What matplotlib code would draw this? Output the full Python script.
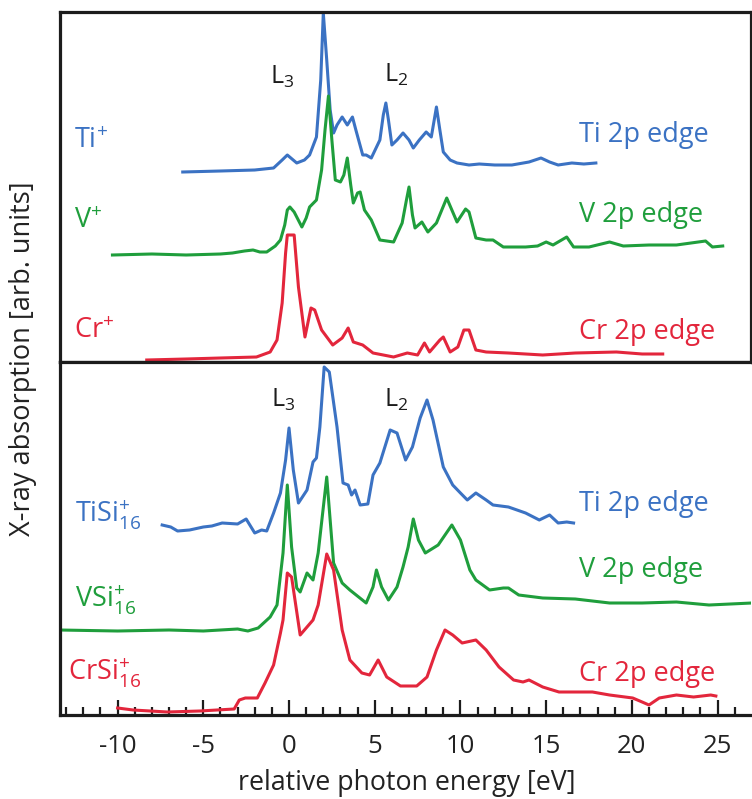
import matplotlib
matplotlib.use("Agg")
import matplotlib.pyplot as plt
from matplotlib.ticker import MultipleLocator, FixedLocator

plt.rcParams['font.family'] = ['Open Sans', 'DejaVu Sans']
plt.rcParams['mathtext.default'] = 'regular'

# ---------------- data (relative photon energy [eV], absorption [arb. units]) ----------------
# Top panel: atomic ions
ti_e = [-6.2, -4.0, -2.0, -0.9, -0.4, -0.1, 0.45, 0.9, 1.2, 1.6, 1.85, 2.0, 2.2, 2.4, 2.6, 2.8,
        3.1, 3.4, 3.7, 3.9, 4.3, 4.5, 4.8, 5.3, 5.5, 5.65, 5.8, 6.0, 6.3, 6.65, 7.0, 7.25, 7.6,
        8.0, 8.3, 8.6, 8.8, 9.0, 9.4, 9.8, 10.5, 11.1, 12.0, 13.0, 14.0, 14.7, 15.2, 15.7, 16.5,
        17.2, 17.9]
ti_y = [190, 191, 192, 194, 202, 207, 199, 202, 207, 225, 282, 349, 302, 252, 229, 237,
        245, 237, 245, 232, 207, 207, 204, 222, 247, 259, 242, 217, 222, 229, 222, 214, 222,
        230, 225, 255, 232, 210, 202, 199, 197, 198, 197, 197, 200, 204, 200, 197, 199,
        198, 199]

v_e = [-10.3, -8.0, -6.0, -4.0, -3.3, -2.6, -2.1, -1.7, -1.3, -0.8, -0.5, -0.25, -0.1, 0.05,
       0.3, 0.75, 1.0, 1.2, 1.6, 1.9, 2.1, 2.3, 2.5, 2.7, 3.0, 3.2, 3.4, 3.6, 3.75, 4.0, 4.15,
       4.4, 4.8, 5.3, 6.1, 6.6, 6.85, 7.0, 7.2, 7.35, 7.75, 8.1, 8.6, 9.2, 9.5, 9.8, 10.3, 10.5,
       10.9, 11.5, 11.9, 12.5, 13.8, 14.5, 15.0, 15.4, 16.2, 16.6, 17.5, 18.7, 19.5, 21.0, 22.6,
       24.3, 24.7, 25.3]
v_y = [107, 108, 107, 108, 109, 111, 112, 110, 110, 116, 122, 137, 152, 155,
       150, 135, 144, 155, 162, 192, 232, 266, 222, 182, 180, 187, 204, 177, 159, 169, 170,
       152, 142, 122, 120, 139, 162, 175, 147, 134, 140, 130, 139, 164, 152, 140, 153, 150,
       124, 122, 122, 115, 115, 116, 120, 117, 125, 115, 115, 120, 116, 117, 117,
       121, 115, 116]

cr_e = [-8.3, -6.0, -4.0, -1.9, -1.1, -0.7, -0.4, -0.2, -0.1, 0.15, 0.3, 0.55, 0.93, 1.28, 1.5,
        1.9, 2.55, 3.1, 3.45, 3.75, 4.3, 4.9, 6.1, 6.9, 7.5, 7.9, 8.2, 8.8, 9.0, 9.4, 9.85,
        10.2, 10.5, 10.9, 11.5, 12.8, 14.8, 16.7, 19.1, 20.6, 21.8]
cr_y = [2, 3, 4, 5, 10, 22, 59, 109, 127, 127, 127, 75, 25, 54, 52,
        32, 17, 24, 34, 20, 17, 9, 5, 9, 7, 19, 10, 22, 25, 10, 15,
        32, 32, 12, 10, 9, 7, 9, 10, 8, 8]

# Bottom panel: MSi16+ clusters
tisi_e = [-7.4, -6.9, -6.5, -5.8, -5.0, -4.5, -3.9, -3.0, -2.5, -2.0, -1.6, -1.3, -0.9, -0.5,
          -0.2, 0.0, 0.25, 0.55, 1.05, 1.4, 1.6, 1.8, 2.05, 2.35, 2.8, 3.15, 3.45, 3.65, 3.85,
          4.15, 4.6, 4.9, 5.3, 5.9, 6.3, 6.8, 7.2, 7.65, 8.05, 8.4, 9.0, 9.55, 10.0, 10.4, 10.9,
          11.5, 11.9, 12.8, 13.8, 14.6, 15.2, 15.7, 16.2, 16.6]
tisi_y = [190, 188, 184, 185, 188, 189, 192, 191, 196, 182, 185, 184, 202, 222,
          255, 287, 245, 212, 225, 253, 257, 288, 348, 343, 288, 232, 230, 220, 225,
          210, 211, 240, 252, 285, 282, 255, 268, 297, 315, 295, 248, 230, 222, 215, 222,
          215, 210, 208, 202, 195, 200, 192, 193, 192]

vsi_e = [-13.4, -10.0, -7.0, -5.0, -3.0, -2.4, -1.8, -1.1, -0.7, -0.35, -0.1, 0.15, 0.45, 0.65,
         1.05, 1.4, 1.7, 2.2, 2.6, 3.1, 3.55, 4.5, 4.9, 5.1, 5.4, 5.8, 6.3, 6.65, 6.95, 7.25,
         7.55, 7.95, 8.7, 9.5, 10.0, 10.55, 10.9, 11.7, 12.5, 12.8, 13.4, 14.8, 16.7, 18.7,
         20.6, 22.6, 24.5, 27.0]
vsi_y = [85, 84, 85, 84, 86, 84, 87, 98, 110, 162, 230, 168, 127, 123,
         142, 135, 162, 238, 152, 132, 125, 112, 128, 145, 128, 115, 128, 148, 168, 196,
         175, 162, 170, 190, 175, 145, 135, 125, 127, 127, 120, 117, 116, 112,
         112, 113, 110, 112]

crsi_e = [-10.0, -9.1, -7.1, -5.2, -3.2, -2.9, -2.55, -1.85, -1.4, -0.9, -0.5, -0.35, -0.1, 0.15,
          0.65, 1.05, 1.4, 1.7, 2.2, 2.6, 3.1, 3.55, 4.25, 4.7, 5.2, 5.7, 6.5, 7.45, 8.05, 8.6,
          9.1, 9.55, 10.1, 10.9, 11.5, 12.25, 13.1, 13.65, 14.0, 14.8, 15.75, 17.7, 18.7, 20.05,
          20.6, 21.0, 21.6, 22.6, 23.6, 24.6, 24.9]
crsi_y = [7, 5, 3, 4, 6, 15, 17, 17, 32, 50, 82, 95, 142, 138,
          80, 88, 95, 110, 161, 145, 85, 55, 42, 40, 55, 38, 29, 29, 38, 65,
          85, 80, 72, 75, 65, 48, 35, 33, 35, 28, 23, 23, 20, 17,
          13, 10, 17, 20, 18, 20, 19]

x_ticks_major = [-10, -5, 0, 5, 10, 15, 20, 25]
x_tick_labels = ['-10', '-5', '0', '5', '10', '15', '20', '25']

# ---------------- styling ----------------
BLUE = '#3b72c3'
GREEN = '#1f9e3c'
RED = '#e3263c'
DARK = '#1c1c1c'
LW = 2.2
XLIM = (-13.36, 26.95)

W, H = 752, 799
fig = plt.figure(figsize=(W / 100, H / 100), dpi=100)
L, R = 60, 751
ax_top = fig.add_axes([L / W, 1 - 362 / H, (R - L) / W, (362 - 12) / H])
ax_bot = fig.add_axes([L / W, 1 - 715 / H, (R - L) / W, (715 - 362) / H])

for ax in (ax_top, ax_bot):
    ax.set_xlim(*XLIM)
    for s in ax.spines.values():
        s.set_linewidth(2.3)
        s.set_color(DARK)

ax_top.set_ylim(0, 350)
ax_bot.set_ylim(0, 353)

ax_top.plot(ti_e, ti_y, color=BLUE, lw=LW, solid_joinstyle='round')
ax_top.plot(v_e, v_y, color=GREEN, lw=LW, solid_joinstyle='round')
ax_top.plot(cr_e, cr_y, color=RED, lw=LW, solid_joinstyle='round')

ax_bot.plot(tisi_e, tisi_y, color=BLUE, lw=LW, solid_joinstyle='round')
ax_bot.plot(vsi_e, vsi_y, color=GREEN, lw=LW, solid_joinstyle='round')
ax_bot.plot(crsi_e, crsi_y, color=RED, lw=LW, solid_joinstyle='round', clip_on=False)

ax_top.set_xticks([])
ax_top.set_yticks([])
ax_bot.set_yticks([])
ax_bot.spines['right'].set_visible(False)
ax_bot.xaxis.set_major_locator(FixedLocator(x_ticks_major))
ax_bot.set_xticklabels(x_tick_labels)
ax_bot.xaxis.set_minor_locator(MultipleLocator(1))
ax_bot.tick_params(axis='x', which='major', direction='in', length=11, width=1.6,
                   color=DARK, labelsize=18.5, pad=14, labelcolor='#222222')
ax_bot.tick_params(axis='x', which='minor', direction='in', length=6, width=1.6, color=DARK)

FS = 19.5
# top panel labels
ax_top.text(-12.55, 221, 'Ti$^{+}$', color=BLUE, fontsize=FS, va='center', ha='left')
ax_top.text(-12.55, 141, 'V$^{+}$', color=GREEN, fontsize=FS, va='center', ha='left')
ax_top.text(-12.55, 31, 'Cr$^{+}$', color=RED, fontsize=FS, va='center', ha='left')
ax_top.text(16.9, 227, 'Ti 2p edge', color=BLUE, fontsize=FS, va='center', ha='left')
ax_top.text(16.9, 147, 'V 2p edge', color=GREEN, fontsize=FS, va='center', ha='left')
ax_top.text(16.9, 30, 'Cr 2p edge', color=RED, fontsize=FS, va='center', ha='left')
ax_top.text(-0.4, 285, 'L$_{3}$', color=DARK, fontsize=18, va='center', ha='center')
ax_top.text(6.25, 287, 'L$_{2}$', color=DARK, fontsize=18, va='center', ha='center')

# bottom panel labels
ax_bot.text(-12.5, 200, 'TiSi$_{16}^{+}$', color=BLUE, fontsize=FS, va='center', ha='left')
ax_bot.text(-12.5, 115, 'VSi$_{16}^{+}$', color=GREEN, fontsize=FS, va='center', ha='left')
ax_bot.text(-12.9, 42, 'CrSi$_{16}^{+}$', color=RED, fontsize=FS, va='center', ha='left')
ax_bot.text(16.9, 211, 'Ti 2p edge', color=BLUE, fontsize=FS, va='center', ha='left')
ax_bot.text(16.9, 145, 'V 2p edge', color=GREEN, fontsize=FS, va='center', ha='left')
ax_bot.text(16.9, 41, 'Cr 2p edge', color=RED, fontsize=FS, va='center', ha='left')
ax_bot.text(-0.35, 315, 'L$_{3}$', color=DARK, fontsize=18, va='center', ha='center')
ax_bot.text(6.25, 315, 'L$_{2}$', color=DARK, fontsize=18, va='center', ha='center')

fig.text(23 / W, 1 - 359 / H, 'X-ray absorption [arb. units]', rotation=90,
         fontsize=19.5, color='#222222', ha='center', va='center')
fig.text(407 / W, 1 - 783 / H, 'relative photon energy [eV]',
         fontsize=19.3, color='#222222', ha='center', va='center')

fig.savefig('out.png', dpi=100)
